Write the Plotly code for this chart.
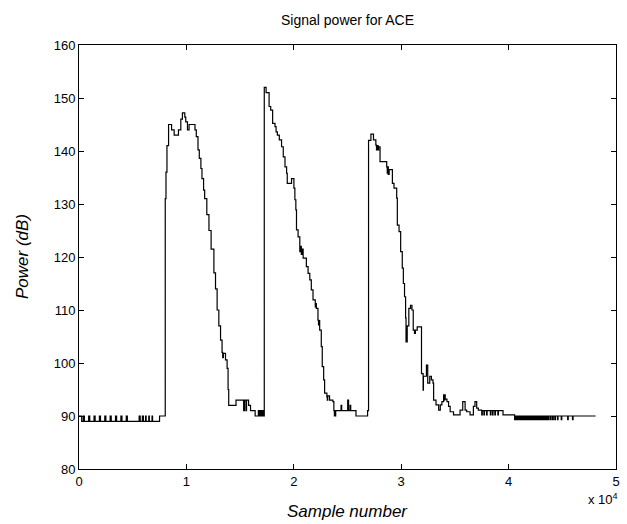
import plotly.graph_objects as go

# Sample index (raw samples) where each step begins, and its power level in dB
sample_idx = [
    0, 250, 400, 500, 900, 1000, 1400, 1500, 1900, 2000, 2400, 2500, 2900, 3000,
    3400, 3500, 3900, 4000, 4400, 4500, 5600, 5700, 5900, 6000, 6200, 6250, 6500,
    6550, 6800, 6850, 7500,
    # peak 1
    8030, 8100, 8190, 8340, 8620, 8860, 9260, 9480, 9630, 9850, 9940, 10100, 10250,
    10800, 10920, 11080, 11200, 11350, 11450, 11600, 11700, 11900, 12100, 12300,
    12560, 12710, 12860, 13020, 13180, 13320, 13380, 13440, 13640, 13790, 13880,
    13940, 14620, 15330, 15400, 15540, 15600, 15790, 15970, 16400, 16700, 16750,
    16850, 16900, 17000, 17050, 17150, 17200,
    # peak 2
    17250, 17420, 17700, 17850, 18030, 18250, 18350, 18470, 18650, 18860, 19020,
    19180, 19330, 19390, 19790, 20010, 20100, 20190, 20250, 20400, 20560, 20650,
    20700, 20800, 20870, 21170, 21330, 21490, 21630, 21790, 22000, 22050, 22100,
    22250, 22300, 22350, 22410, 22560, 22650, 22780, 22870, 23080, 23120, 23160,
    23330, 23640, 23730, 23780, 23820, 23860, 23900, 24400, 24460, 25020, 25100,
    25240, 25300, 25790, 26870,
    # peak 3
    26960, 27180, 27420, 27640, 27700, 27750, 27850, 27900, 28030, 28650, 28700,
    28760, 28800, 28880, 29180, 29330, 29580, 29640, 29800, 29950, 30100, 30200,
    30310, 30410, 30450, 30560, 30710, 30870, 31000, 31120, 31240, 31320, 31490,
    31890, 32040, 32070, 32350, 32470, 32660, 32810, 32960, 33020, 33240, 33490,
    33640, 33790, 33950, 34000, 34050, 34100, 34260, 34410, 34560, 34870, 35480,
    35730, 35950, 36100, 36410, 36720, 36870, 37030, 37180, 37500, 37550, 37700,
    37750, 37950, 38000, 38300, 38350, 38500, 38550, 38720, 38770, 39000, 39050,
    39480,
    # tail
    40560, 40620, 40700, 40760, 40850, 40900, 41000, 41060, 41150, 41200, 41300,
    41360, 41450, 41500, 41600, 41660, 41750, 41800, 41900, 41960, 42050, 42100,
    42200, 42260, 42350, 42400, 42500, 42560, 42650, 42700, 42800, 42860, 42950,
    43000, 43100, 43160, 43250, 43300, 43400, 43460, 43550, 43600, 43700, 43760,
    43900, 43960, 44100, 44160, 44300, 44360, 44550, 44600, 44900, 44950, 45500,
    45550, 45950, 46000, 48100,
]
power_db = [
    90, 89, 90, 89, 90, 89, 90, 89, 90, 89, 90, 89, 90, 89,
    90, 89, 90, 89, 90, 89, 90, 89, 90, 89, 90, 89, 90,
    89, 90, 89, 90,
    # peak 1
    131, 136, 141, 145, 144, 143, 144, 146, 147.2, 146.4, 145.5, 144, 145,
    144, 142.7, 140.2, 138.6, 136.7, 134.8, 132.6, 131, 128, 125, 121.5,
    117, 114, 110, 107, 104.3, 102, 101, 101.8, 100.6, 99, 95,
    92, 93, 91, 93, 91, 93, 92, 91, 90, 91, 90,
    91, 90, 91, 90, 91, 90,
    # peak 2
    152, 151, 148.4, 147.7, 145.2, 144.6, 143.6, 143, 142.1, 140.8, 138.9,
    137, 135.8, 133.9, 134.8, 133, 130.8, 128.9, 125.1, 123.8, 121, 122,
    120.5, 121.5, 119.8, 118.2, 116.9, 115.7, 113.8, 111.9, 110.6, 111.2, 110.3,
    108.1, 107.2, 108, 106.2, 103.1, 99.3, 96.8, 94.3, 93.6, 93, 93.8,
    93, 92.7, 91, 90, 91, 90, 91, 92, 91, 93, 91,
    92, 91, 90, 91,
    # peak 3
    142, 143.2, 142.1, 141.1, 140.2, 141, 140.2, 140.8, 138, 137, 135.8,
    137, 135.6, 136.5, 133.9, 133, 131.1, 126, 124.8, 121, 117.9, 115,
    112.5, 108.5, 104, 107, 110.3, 110.9, 110, 106.2, 105.6, 106.2, 106.8,
    98, 94.9, 97.5, 99.6, 96.2, 97.5, 96.8, 96.2, 93, 92.1, 91.1,
    92.1, 92.7, 94, 93, 94, 93.2, 92.7, 91.8, 90.8, 90.2, 91.1,
    92.7, 91.1, 90.8, 90.2, 91.8, 92.7, 91.5, 91.1, 90.2, 91, 90.2,
    91, 90.2, 91, 90.2, 91, 90.2, 91, 90.2, 91, 90.2, 91,
    90.2,
    # tail
    89.3, 90, 89.3, 90, 89.3, 90, 89.3, 90, 89.3, 90, 89.3,
    90, 89.3, 90, 89.3, 90, 89.3, 90, 89.3, 90, 89.3, 90,
    89.3, 90, 89.3, 90, 89.3, 90, 89.3, 90, 89.3, 90, 89.3,
    90, 89.3, 90, 89.3, 90, 89.3, 90, 89.3, 90, 89.3, 90,
    89.3, 90, 89.3, 90, 89.3, 90, 89.3, 90, 89.3, 90, 89.3,
    90, 89.3, 90, 90,
]

x_ticks = [0, 1, 2, 3, 4, 5]
y_ticks = [80, 90, 100, 110, 120, 130, 140, 150, 160]
x_scale = 1e4

fig = go.Figure()
fig.add_trace(go.Scatter(
    x=[s / x_scale for s in sample_idx], y=power_db,
    mode="lines", line=dict(color="black", width=1.2, shape="hv"),
    showlegend=False, hoverinfo="skip",
))

tick_font = dict(family="Liberation Sans Narrow, Liberation Sans, Arial", size=13, color="black")
axis_common = dict(
    showline=True, linecolor="black", linewidth=1, mirror="ticks",
    ticks="inside", ticklen=5, tickcolor="black", showgrid=False, zeroline=False,
    tickfont=tick_font,
)
fig.update_xaxes(range=[0, 5], tickvals=x_ticks, ticktext=[str(t) for t in x_ticks], **axis_common)
fig.update_yaxes(range=[80, 160], tickvals=y_ticks, ticktext=[str(t) for t in y_ticks], **axis_common)

fig.update_layout(
    width=627, height=524,
    margin=dict(l=79, r=7, t=45, b=55),
    paper_bgcolor="white", plot_bgcolor="white",
    annotations=[
        dict(text="Signal power for ACE", x=0.5, y=1, xref="paper", yref="paper",
             xanchor="center", yanchor="bottom", yshift=15, showarrow=False,
             font=dict(family="Liberation Sans Narrow, Liberation Sans, Arial", size=14, color="black")),
        dict(text="<i>Sample number</i>", x=0.5, y=0, xref="paper", yref="paper",
             xanchor="center", yanchor="middle", yshift=-42, showarrow=False,
             font=dict(family="Liberation Sans, Arial", size=17, color="black")),
        dict(text="<i>Power (dB)</i>", x=0, y=0.5, xref="paper", yref="paper",
             xanchor="center", yanchor="middle", xshift=-57, textangle=-90, showarrow=False,
             font=dict(family="Liberation Sans, Arial", size=17, color="black")),
        dict(text="x 10<sup>4</sup>", x=1, y=0, xref="paper", yref="paper",
             xanchor="right", yanchor="middle", yshift=-30, xshift=4, showarrow=False,
             font=dict(family="Liberation Sans Narrow, Liberation Sans, Arial", size=13, color="black")),
    ],
)

fig.write_html("out.html")
